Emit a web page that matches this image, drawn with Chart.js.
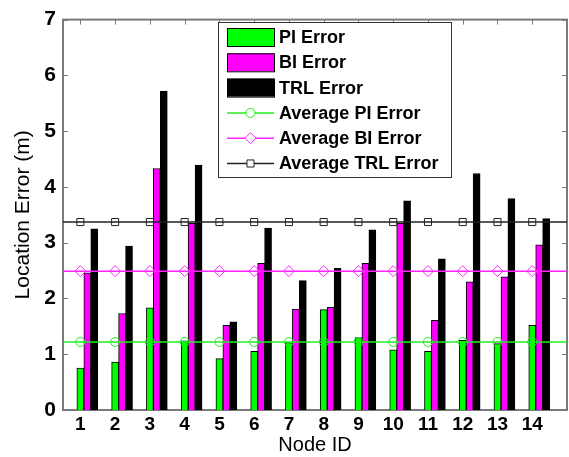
<!DOCTYPE html>
<html>
<head>
<meta charset="utf-8">
<script src="https://cdn.jsdelivr.net/npm/chart.js@4.4.1/dist/chart.umd.min.js"></script>
<style>
  html, body { margin: 0; padding: 0; background: #fff; }
  #wrap { width: 569px; height: 457px; }
</style>
</head>
<body>
<div id="wrap"><canvas id="chart" width="569" height="457"></canvas></div>
<script>
// localisation error per node (metres)
const nodeIds  = [1, 2, 3, 4, 5, 6, 7, 8, 9, 10, 11, 12, 13, 14];
const piError  = [0.75, 0.86, 1.83, 1.24, 0.92, 1.05, 1.21, 1.80, 1.30, 1.08, 1.05, 1.25, 1.19, 1.52];
const biError  = [2.46, 1.73, 4.33, 3.35, 1.52, 2.63, 1.81, 1.84, 2.63, 3.35, 1.61, 2.30, 2.39, 2.96];
const trlError = [3.25, 2.94, 5.72, 4.39, 1.58, 3.26, 2.32, 2.54, 3.23, 3.75, 2.71, 4.24, 3.79, 3.43];
const avgPI  = 1.22;
const avgBI  = 2.49;
const avgTRL = 3.37;
const yTicks = [0, 1, 2, 3, 4, 5, 6, 7];

const X_MIN = 0.5, X_MAX = 15;
const FONT = "Arial, 'Liberation Sans', Helvetica, sans-serif";

function barSet(label, values, shift, color) {
  return {
    type: 'bar',
    label,
    data: nodeIds.map((id, i) => ({ x: id + shift, y: values[i] })),
    backgroundColor: color,
    borderColor: '#000',
    borderWidth: 1,
    barThickness: 7,
    grouped: false,
    order: 2
  };
}

function avgSet(label, value, color, style, radius) {
  // horizontal line across the whole axis, markers only on the nodes
  const pts = [{ x: X_MIN, y: value }]
    .concat(nodeIds.map(id => ({ x: id, y: value })))
    .concat([{ x: X_MAX, y: value }]);
  return {
    type: 'line',
    label,
    data: pts,
    borderColor: color,
    borderWidth: 1.5,
    pointStyle: style,
    pointBorderColor: color,
    pointBackgroundColor: 'rgba(0,0,0,0)',
    pointBorderWidth: 1,
    pointRadius: ctx => (ctx.dataIndex > 0 && ctx.dataIndex <= nodeIds.length) ? radius : 0,
    order: 1
  };
}

// MATLAB-like box with inward tick marks
const frame = {
  id: 'frame',
  beforeDatasetsDraw(chart) {
    const { ctx, chartArea: a, scales: { x, y } } = chart;
    ctx.save();
    ctx.strokeStyle = '#7a7a7a';
    ctx.lineWidth = 1;
    ctx.beginPath();
    y.ticks.forEach(t => {
      const py = Math.round(y.getPixelForValue(t.value)) + 0.5;
      ctx.moveTo(a.left, py); ctx.lineTo(a.left + 5, py);
      ctx.moveTo(a.right, py); ctx.lineTo(a.right - 5, py);
    });
    x.ticks.forEach(t => {
      const px = Math.round(x.getPixelForValue(t.value)) + 0.5;
      ctx.moveTo(px, a.top); ctx.lineTo(px, a.top + 5);
      ctx.moveTo(px, a.bottom); ctx.lineTo(px, a.bottom - 5);
    });
    ctx.stroke();
    ctx.lineWidth = 2;
    ctx.strokeRect(a.left, a.top, a.right - a.left, a.bottom - a.top);
    ctx.restore();
  }
};

// legend box drawn inside the plot
const boxLegend = {
  id: 'boxLegend',
  afterDraw(chart) {
    const { ctx } = chart;
    const bx = 218, by = 22, bw = 233, bh = 155;
    ctx.save();
    ctx.fillStyle = '#fff';
    ctx.fillRect(bx, by, bw, bh);
    ctx.strokeStyle = '#333';
    ctx.lineWidth = 1;
    ctx.strokeRect(bx + 0.5, by + 0.5, bw, bh);

    const sx0 = 227, sx1 = 274;
    ctx.font = "bold 18px " + FONT;
    ctx.textBaseline = 'middle';
    chart.data.datasets.forEach((ds, i) => {
      const cy = by + 15 + i * 25.3;
      if (ds.type === 'bar') {
        ctx.fillStyle = ds.backgroundColor;
        ctx.fillRect(sx0, cy - 9, sx1 - sx0, 18);
        ctx.strokeStyle = '#000';
        ctx.lineWidth = 1;
        ctx.strokeRect(sx0 + 0.5, cy - 9 + 0.5, sx1 - sx0, 18);
      } else {
        ctx.strokeStyle = ds.borderColor;
        ctx.lineWidth = 1.5;
        ctx.beginPath();
        ctx.moveTo(sx0, cy); ctx.lineTo(sx1, cy);
        ctx.stroke();
        ctx.fillStyle = '#fff';
        ctx.lineWidth = 1;
        const r = ds.pointRadius({ dataIndex: 1 });
        Chart.helpers.drawPoint(ctx, { pointStyle: ds.pointStyle, radius: r, rotation: 0, borderWidth: 1 }, (sx0 + sx1) / 2, cy);
      }
      ctx.fillStyle = '#000';
      ctx.fillText(ds.label, 279, cy + 1);
    });
    ctx.restore();
  }
};

new Chart(document.getElementById('chart'), {
  type: 'bar',
  data: {
    datasets: [
      barSet('PI Error', piError, 0, '#00ff00'),
      barSet('BI Error', biError, 0.2, '#ff00ff'),
      barSet('TRL Error', trlError, 0.4, '#000000'),
      avgSet('Average PI Error', avgPI, '#22ee22', 'circle', 4.5),
      avgSet('Average BI Error', avgBI, '#ff22ff', 'rectRot', 5.5),
      avgSet('Average TRL Error', avgTRL, '#222222', 'rect', 5)
    ]
  },
  options: {
    responsive: false,
    animation: false,
    layout: { padding: { top: 15, right: 2, left: 0, bottom: 0 } },
    plugins: {
      legend: { display: false },
      tooltip: { enabled: false }
    },
    scales: {
      x: {
        type: 'linear',
        min: X_MIN,
        max: X_MAX,
        offset: false,
        grid: { display: false, drawTicks: false },
        border: { display: false },
        afterBuildTicks: scale => { scale.ticks = nodeIds.map(v => ({ value: v })); },
        afterFit: scale => { scale.height = 47; },
        ticks: {
          padding: 3,
          autoSkip: false,
          maxRotation: 0,
          color: '#000',
          font: { family: FONT, size: 19, weight: 'bold' }
        },
        title: {
          display: true,
          text: 'Node ID',
          color: '#000',
          padding: { top: 0, bottom: 0 },
          font: { family: FONT, size: 20 }
        }
      },
      y: {
        min: 0,
        max: 7,
        grid: { display: false, drawTicks: false },
        border: { display: false },
        afterBuildTicks: scale => { scale.ticks = yTicks.map(v => ({ value: v })); },
        afterFit: scale => { scale.width = 63; },
        ticks: {
          padding: 7,
          color: '#000',
          font: { family: FONT, size: 21, weight: 'bold' }
        },
        title: {
          display: true,
          text: 'Location Error (m)',
          color: '#000',
          padding: { top: 11, bottom: 0 },
          font: { family: FONT, size: 21 }
        }
      }
    }
  },
  plugins: [frame, boxLegend]
});
</script>
</body>
</html>
